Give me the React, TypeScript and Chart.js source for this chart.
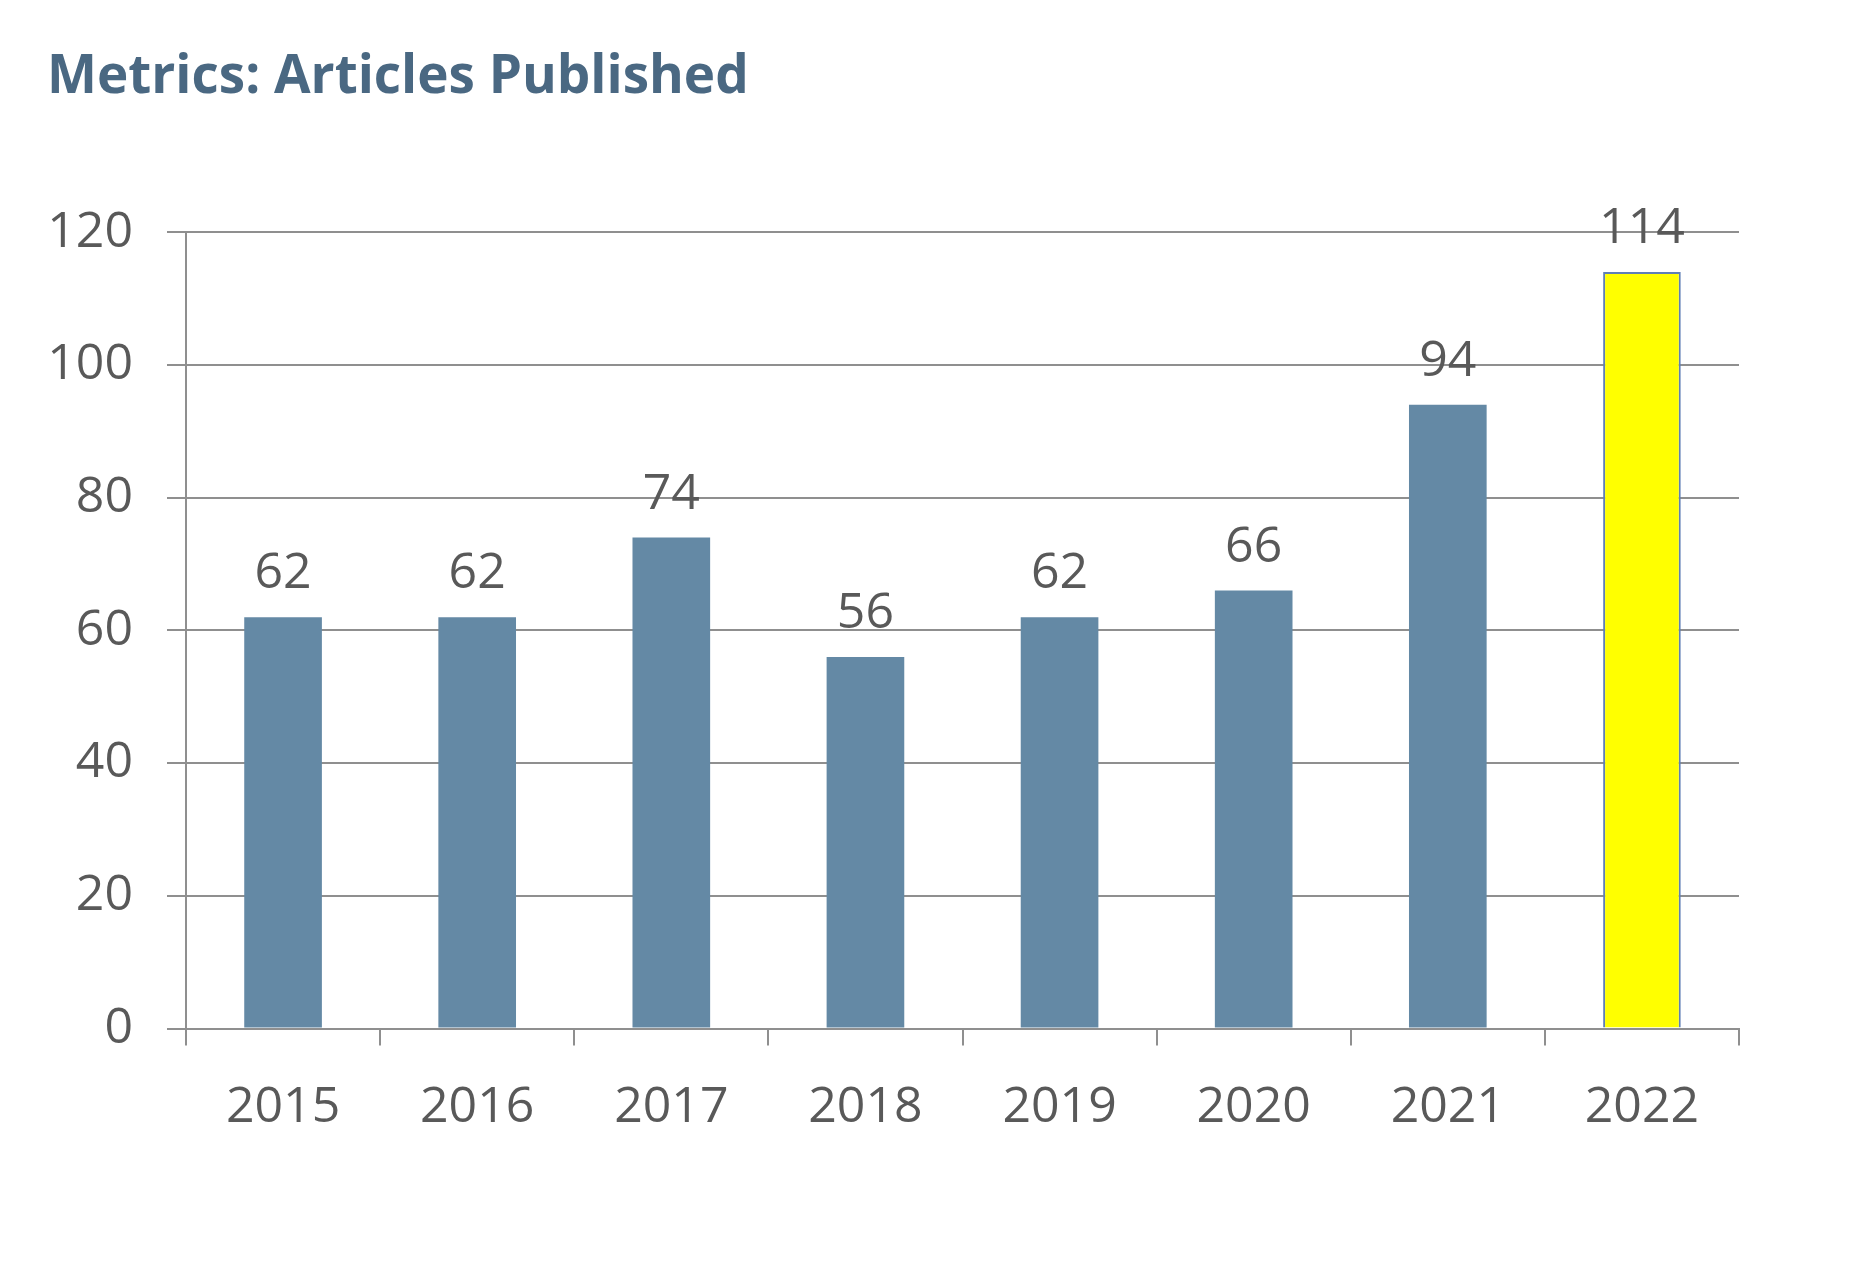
import React, { useEffect, useRef } from "react";
import { Chart, registerables } from "chart.js";

Chart.register(...registerables);

const TITLE = "Metrics: Articles Published";
const YEARS = ["2015", "2016", "2017", "2018", "2019", "2020", "2021", "2022"];
const ARTICLES = [62, 62, 74, 56, 62, 66, 94, 114];
const BAR_COLORS = ["#6489a5", "#6489a5", "#6489a5", "#6489a5", "#6489a5", "#6489a5", "#6489a5", "#ffff00"];
const BAR_BORDERS = ["#6489a5", "#6489a5", "#6489a5", "#6489a5", "#6489a5", "#6489a5", "#6489a5", "#5f7fb5"];
const Y_MIN = 0;
const Y_MAX = 120;
const Y_STEP = 20;

const W = 1867;
const H = 1270;
const TEXT_COLOR = "#595959";
const GRID_COLOR = "#8f8f8f";
const NUM_FONT = '"Open Sans", sans-serif';

const titlePlugin = {
  id: "customTitle",
  afterDraw(chart: any) {
    const ctx = chart.ctx;
    ctx.save();
    ctx.font = 'bold 53px "Open Sans", sans-serif';
    ctx.fillStyle = "#4a6882";
    ctx.textAlign = "left";
    ctx.textBaseline = "alphabetic";
    ctx.fillText(TITLE, 47, 93);
    ctx.restore();
  },
};

const valueLabelPlugin = {
  id: "valueLabels",
  afterDatasetsDraw(chart: any) {
    const ctx = chart.ctx;
    const meta = chart.getDatasetMeta(0);
    const data = chart.data.datasets[0].data;
    ctx.save();
    ctx.font = `50px ${NUM_FONT}`;
    ctx.fillStyle = TEXT_COLOR;
    ctx.textAlign = "center";
    ctx.textBaseline = "alphabetic";
    meta.data.forEach((bar: any, i: number) => {
      ctx.fillText(String(data[i]), bar.x, bar.y - 29);
    });
    ctx.restore();
  },
};

export default function App() {
  const ref = useRef<HTMLCanvasElement | null>(null);

  useEffect(() => {
    if (!ref.current) return;
    const chart = new Chart(ref.current, {
      type: "bar",
      data: {
        labels: YEARS,
        datasets: [
          {
            data: ARTICLES,
            backgroundColor: BAR_COLORS,
            borderColor: BAR_BORDERS,
            borderWidth: [0, 0, 0, 0, 0, 0, 0, 2],
            barPercentage: 0.4,
            categoryPercentage: 1,
          },
        ],
      },
      options: {
        animation: false,
        responsive: false,
        devicePixelRatio: 1,
        layout: { padding: { top: 232.3, right: 128, bottom: 0, left: 0 } },
        plugins: {
          legend: { display: false },
          title: { display: false },
          tooltip: { enabled: false },
        },
        scales: {
          x: {
            offset: true,
            grid: {
              offset: true,
              drawOnChartArea: false,
              drawTicks: true,
              tickLength: 17,
              color: GRID_COLOR,
              lineWidth: 2,
            },
            border: { display: true, color: GRID_COLOR, width: 2 },
            ticks: {
              color: TEXT_COLOR,
              font: { family: NUM_FONT, size: 50 },
              padding: 32,
              maxRotation: 0,
              autoSkip: false,
            },
            afterFit(scale: any) {
              scale.height = 241.5;
            },
          },
          y: {
            min: Y_MIN,
            max: Y_MAX,
            grid: {
              color: GRID_COLOR,
              lineWidth: 2,
              drawTicks: true,
              tickLength: 19,
            },
            border: { display: true, color: GRID_COLOR, width: 2 },
            ticks: {
              stepSize: Y_STEP,
              color: TEXT_COLOR,
              font: { family: NUM_FONT, size: 50 },
              padding: 34,
            },
            afterFit(scale: any) {
              scale.width = 186;
            },
          },
        },
      },
      plugins: [titlePlugin, valueLabelPlugin],
    });
    return () => chart.destroy();
  }, []);

  return (
    <div style={{ position: "absolute", left: 0, top: 0, width: W, height: H, background: "#ffffff" }}>
      <canvas ref={ref} width={W} height={H} style={{ display: "block" }} />
    </div>
  );
}
